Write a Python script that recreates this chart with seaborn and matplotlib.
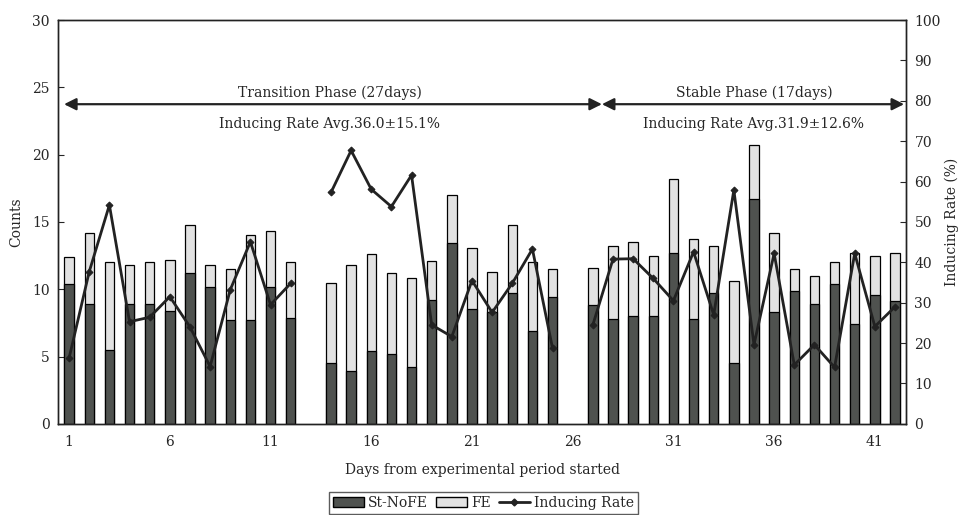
import numpy as np
import pandas as pd
import matplotlib
matplotlib.use("Agg")
import matplotlib.pyplot as plt
import seaborn as sns
from matplotlib.patches import Patch
from matplotlib.lines import Line2D

# ---------------- data ----------------
days = [1, 2, 3, 4, 5, 6, 7, 8, 9, 10, 11, 12,
        14, 15, 16, 17, 18, 19, 20, 21, 22, 23, 24, 25,
        27, 28, 29, 30, 31, 32, 33, 34, 35, 36, 37, 38, 39, 40, 41, 42]

st_nofe = [10.4, 8.9, 5.5, 8.9, 8.9, 8.4, 11.2, 10.2, 7.7, 7.7, 10.2, 7.9,
           4.5, 3.9, 5.4, 5.2, 4.2, 9.2, 13.4, 8.5, 8.3, 9.7, 6.9, 9.4,
           8.8, 7.8, 8.0, 8.0, 12.7, 7.8, 9.7, 4.5, 16.7, 8.3, 9.9, 8.9, 10.4, 7.4, 9.6, 9.1]

fe = [2.0, 5.3, 6.5, 2.9, 3.1, 3.8, 3.6, 1.6, 3.8, 6.3, 4.1, 4.1,
      6.0, 7.9, 7.2, 6.0, 6.6, 2.9, 3.6, 4.6, 3.0, 5.1, 5.1, 2.1,
      2.8, 5.4, 5.5, 4.5, 5.5, 5.9, 3.5, 6.1, 4.0, 5.9, 1.6, 2.1, 1.6, 5.3, 2.9, 3.6]

inducing_rate = [16.3, 37.7, 54.2, 25.3, 26.4, 31.5, 24.0, 14.2, 33.2, 45.1, 29.5, 34.8,
                 57.3, 67.7, 58.1, 53.8, 61.6, 24.5, 21.6, 35.5, 27.6, 34.8, 43.3, 18.7,
                 24.5, 40.8, 40.9, 36.0, 30.5, 42.6, 27.0, 57.9, 19.6, 42.2, 14.6, 19.6, 14.0, 42.2, 24.1, 29.0]

xtick_days = [1, 6, 11, 16, 21, 26, 31, 36, 41]

df = pd.DataFrame({
    'day': days,
    'st_nofe': st_nofe,
    'fe': fe,
    'rate': inducing_rate,
})
df['total'] = df['st_nofe'] + df['fe']
# break the line where days are missing
df['segment'] = (df['day'].diff().fillna(1) > 1).cumsum()

DARK = '#4f524f'
LIGHT = '#e2e2e2'
INK = '#222222'

# ---------------- plot ----------------
sns.set_style("white")
plt.rcParams['font.family'] = ['DejaVu Serif']
plt.rcParams['font.size'] = 10

fig = plt.figure(figsize=(9.67, 5.15), dpi=100)
ax = fig.add_axes([0.060, 0.177, 0.877, 0.784])

# stacked bars: total (FE on top) then St-NoFE over it
sns.barplot(data=df, x='day', y='total', native_scale=True, width=0.47,
            color=LIGHT, edgecolor='black', linewidth=0.9, saturation=1, ax=ax)
sns.barplot(data=df, x='day', y='st_nofe', native_scale=True, width=0.47,
            color=DARK, edgecolor='black', linewidth=0.9, saturation=1, ax=ax)

ax.set_xlim(0.45, 42.55)
ax.set_ylim(0, 30)
ax.set_yticks(range(0, 31, 5))
ax.set_xticks(xtick_days)
ax.set_xticks(np.arange(0.5, 43, 1), minor=True)
ax.tick_params(axis='x', which='major', length=0, pad=8, labelsize=10)
ax.tick_params(axis='x', which='minor', direction='in', length=4, width=0.8, color='#333333')
ax.tick_params(axis='y', direction='in', length=4, width=0.8, labelsize=10, pad=6)
ax.set_xlabel('Days from experimental period started', fontsize=10, labelpad=10)
ax.set_ylabel('Counts', fontsize=10, labelpad=6)
for sp in ax.spines.values():
    sp.set_color(INK)
    sp.set_linewidth(1.0)

# inducing rate on right axis
ax2 = ax.twinx()
sns.lineplot(data=df, x='day', y='rate', units='segment', estimator=None,
             color=INK, linewidth=2.0, marker='D', markersize=3.5,
             markeredgecolor=INK, ax=ax2, legend=False)
ax2.set_ylim(0, 100)
ax2.set_yticks(range(0, 101, 10))
ax2.tick_params(axis='y', direction='in', length=4, width=0.8, labelsize=10, pad=6)
ax2.set_ylabel('Inducing Rate (%)', fontsize=10, labelpad=3)
ax2.set_xlim(0.45, 42.55)
for sp in ax2.spines.values():
    sp.set_color(INK)
    sp.set_linewidth(1.0)

# phase annotations
arrow_kw = dict(arrowstyle='<|-|>', color=INK, lw=1.6, mutation_scale=18,
                shrinkA=0, shrinkB=0)
ax.annotate('', xy=(0.75, 23.75), xytext=(27.45, 23.75), arrowprops=arrow_kw)
ax.annotate('', xy=(27.45, 23.75), xytext=(42.45, 23.75), arrowprops=arrow_kw)
ax.text(13.95, 24.6, 'Transition Phase (27days)', ha='center', va='center', fontsize=10)
ax.text(13.95, 22.25, 'Inducing Rate Avg.36.0\u00b115.1%', ha='center', va='center', fontsize=10)
ax.text(35.0, 24.6, 'Stable Phase (17days)', ha='center', va='center', fontsize=10)
ax.text(35.0, 22.25, 'Inducing Rate Avg.31.9\u00b112.6%', ha='center', va='center', fontsize=10)

# legend
handles = [Patch(facecolor=DARK, edgecolor='black', label='St-NoFE'),
           Patch(facecolor=LIGHT, edgecolor='black', label='FE'),
           Line2D([0], [0], color=INK, lw=2, marker='D', markersize=3.5, label='Inducing Rate')]
fig.legend(handles=handles, loc='lower center', bbox_to_anchor=(0.5, -0.012), ncol=3,
           frameon=True, fancybox=False, edgecolor='#333333', fontsize=10,
           handlelength=2.2, handletextpad=0.3, columnspacing=0.6, borderpad=0.3)

fig.savefig('out.png', dpi=100)
